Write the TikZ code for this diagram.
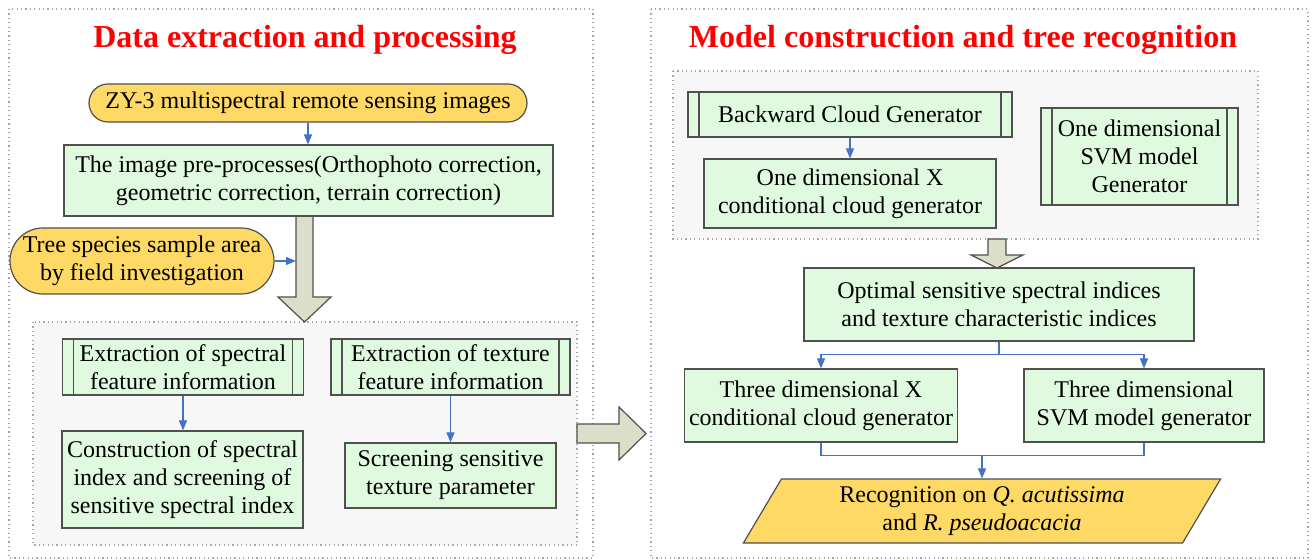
\documentclass[tikz,border=0pt]{standalone}
\usepackage{fontspec}
\setmainfont{Liberation Serif}
\usepackage{tikz}
\usetikzlibrary{shapes.geometric,arrows.meta,positioning,calc}
\definecolor{boxGreen}{RGB}{224,250,224}
\definecolor{boxYellow}{RGB}{254,217,102}
\definecolor{bigArrow}{RGB}{220,222,202}
\definecolor{linkBlue}{RGB}{68,114,196}
\definecolor{panelGray}{RGB}{247,247,247}
\definecolor{edgeGray}{RGB}{80,80,80}

\begin{document}
\begin{tikzpicture}[x=0.5pt, y=-0.5pt,
  every node/.style={font=\fontsize{12}{14}\selectfont, align=center, inner sep=2pt},
  heading/.style={font=\fontsize{16}{19}\selectfont\bfseries, text=red},
  greenbox/.style={draw=edgeGray, line width=0.6pt, fill=boxGreen},
  procbox/.style={greenbox, path picture={
      \draw[edgeGray, line width=0.6pt]
        ([xshift=5.5pt]path picture bounding box.north west) -- ([xshift=5.5pt]path picture bounding box.south west)
        ([xshift=-5.5pt]path picture bounding box.north east) -- ([xshift=-5.5pt]path picture bounding box.south east);}},
  capsule/.style={draw=edgeGray, line width=0.6pt, fill=boxYellow, rounded corners=#1},
  panel/.style={draw=gray!70, line width=0.6pt, dash pattern=on 0.6pt off 1.6pt, fill=#1},
  bigarrow/.style={draw=edgeGray, line width=0.6pt, fill=bigArrow},
  link/.style={draw=linkBlue, line width=0.6pt, -{Triangle[length=5pt,width=4pt]}},
  joint/.style={draw=linkBlue, line width=0.6pt}]
  \useasboundingbox (0,0) rectangle (1314,560);
  % Panels
  \draw[panel=white] (9,9) rectangle (593,558);
  \draw[panel=white] (651,9) rectangle (1308,558);
  \draw[panel=panelGray] (33,322) rectangle (577,545);
  \draw[panel=panelGray] (673,71) rectangle (1258,239);
  % Block arrows
  \draw[bigarrow] (296,215) -- (313,215) -- (313,297) -- (331,297) -- (304.5,322) -- (278,297) -- (296,297) -- cycle;
  \draw[bigarrow] (577,424) -- (619,424) -- (619,407) -- (646,433.5) -- (619,460) -- (619,443) -- (577,443) -- cycle;
  \draw[bigarrow] (988,239) -- (1006,239) -- (1006,255) -- (1023,255) -- (997,268) -- (971,255) -- (988,255) -- cycle;
  \coordinate (shaftL) at (296,261);
  % Titles
  \node[heading] (titleL) at (305,40) {Data extraction and processing};
  \node[heading] (titleR) at (963,40) {Model construction and tree recognition};
  % Data extraction
  \node[capsule=9.5pt, minimum width=219pt, minimum height=19pt] (zy) at (308,103) {ZY-3 multispectral remote sensing images};
  \node[greenbox, minimum width=244.5pt, minimum height=35.5pt] (pre) at (308.5,180.5) {The image pre-processes(Orthophoto correction,\\geometric correction, terrain correction)};
  \node[capsule=16.5pt, minimum width=132pt, minimum height=33pt] (tree) at (142,261) {Tree species sample area\\by field investigation};
  \node[procbox, minimum width=120.5pt, minimum height=28pt] (spec) at (183,367) {Extraction of spectral\\feature information};
  \node[procbox, minimum width=119.5pt, minimum height=28pt] (tex) at (450.5,367) {Extraction of texture\\feature information};
  \node[greenbox, minimum width=120.5pt, minimum height=48.5pt] (cons) at (182.5,479.5) {Construction of spectral\\index and screening of\\sensitive spectral index};
  \node[greenbox, minimum width=105.5pt, minimum height=32.5pt] (scr) at (450.5,475.5) {Screening sensitive\\texture parameter};
  % Model construction
  \node[procbox, minimum width=162pt, minimum height=22.5pt] (back) at (850,114.5) {Backward Cloud Generator};
  \node[greenbox, minimum width=146pt, minimum height=34.5pt] (onex) at (850,193.5) {One dimensional X\\conditional cloud generator};
  \node[procbox, minimum width=98.5pt, minimum height=48.5pt] (onesvm) at (1139.5,156.5) {One dimensional\\SVM model\\Generator};
  \node[greenbox, minimum width=195pt, minimum height=36.5pt] (opt) at (999,304.5) {Optimal sensitive spectral indices\\and texture characteristic indices};
  \node[greenbox, minimum width=136.5pt, minimum height=36.5pt] (thrx) at (821,405.5) {Three dimensional X\\conditional cloud generator};
  \node[greenbox, minimum width=120pt, minimum height=36.5pt] (thrsvm) at (1144,405.5) {Three dimensional\\SVM model generator};
  \node[trapezium, trapezium left angle=64, trapezium right angle=116, trapezium stretches=true,
        draw=edgeGray, line width=0.6pt, fill=boxYellow, minimum width=239pt, minimum height=32pt] (rec) at (982,511)
        {Recognition on \textit{Q. acutissima}\\and \textit{R. pseudoacacia}};
  % Arrows
  \draw[link] (zy.south) -- (zy.south |- pre.north);
  \draw[link] (tree.east |- shaftL) -- (shaftL);
  \draw[link] (spec.south) -- (spec.south |- cons.north);
  \draw[link] (tex.south) -- (tex.south |- scr.north);
  \draw[link] (back.south) -- (back.south |- onex.north);
  \draw[link] (opt.south) -- ++(0,13) -| (thrx.north);
  \draw[link] (opt.south) -- ++(0,13) -| (thrsvm.north);
  \draw[joint] (thrx.south) -- ++(0,13) -| (thrsvm.south);
  \draw[link] (thrx.south) ++(0,13) -| (rec.north);
\end{tikzpicture}
\end{document}
